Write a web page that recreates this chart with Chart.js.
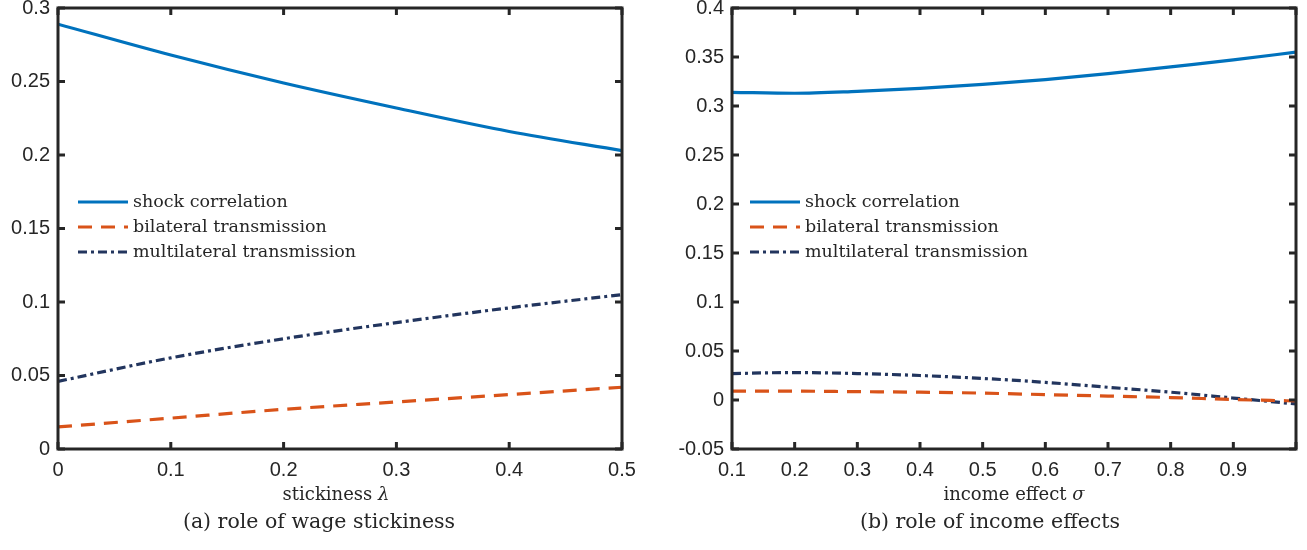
<!DOCTYPE html>
<html>
<head>
<meta charset="utf-8">
<script src="https://cdn.jsdelivr.net/npm/chart.js@4.4.0/dist/chart.umd.min.js"></script>
<style>
  body { margin: 0; background: #fff; width: 1307px; height: 550px; position: relative; overflow: hidden; }
  .pane { position: absolute; top: 0; height: 550px; }
  .txt { position: absolute; font-family: "DejaVu Serif", serif; color: #262626; text-align: center; white-space: nowrap; line-height: 1; }
</style>
</head>
<body>
<div class="pane" style="left:0;width:640px"><canvas id="chartA" width="640" height="550"></canvas></div>
<div class="pane" style="left:660px;width:647px"><canvas id="chartB" width="647" height="550"></canvas></div>
<div class="txt" style="left:236px;width:200px;top:485px;font-size:18px">stickiness <i>λ</i></div>
<div class="txt" style="left:119px;width:400px;top:511px;font-size:20.5px">(a) role of wage stickiness</div>
<div class="txt" style="left:914px;width:200px;top:485px;font-size:18px">income effect <i>σ</i></div>
<div class="txt" style="left:790px;width:400px;top:511px;font-size:20.5px">(b) role of income effects</div>
<script>
// panel (a): wage stickiness
var stickiness = [0, 0.1, 0.2, 0.3, 0.4, 0.5];
var shockA = [0.289, 0.268, 0.249, 0.232, 0.216, 0.203];
var bilateralA = [0.015, 0.021, 0.027, 0.032, 0.037, 0.042];
var multilateralA = [0.046, 0.062, 0.075, 0.086, 0.096, 0.105];

// panel (b): income effects
var incomeEffect = [0.1, 0.2, 0.3, 0.4, 0.5, 0.6, 0.7, 0.8, 0.9, 1.0];
var shockB = [0.314, 0.313, 0.315, 0.318, 0.322, 0.327, 0.333, 0.340, 0.347, 0.355];
var bilateralB = [0.009, 0.009, 0.0085, 0.008, 0.007, 0.0055, 0.004, 0.0025, 0.0005, -0.001];
var multilateralB = [0.027, 0.028, 0.027, 0.025, 0.022, 0.018, 0.013, 0.008, 0.002, -0.004];

var seriesNames = ['shock correlation', 'bilateral transmission', 'multilateral transmission'];

var axisColor = '#262626';
var tickFont = { family: '"Liberation Sans", Arial, sans-serif', size: 20 };

function pts(xs, ys) {
    return xs.map(function (x, i) { return { x: x, y: ys[i] }; });
}

function makeDatasets(xs, shock, bil, multi) {
    return [
        { label: seriesNames[0], data: pts(xs, shock), borderColor: '#0072BD', borderWidth: 3.2 },
        { label: seriesNames[1], data: pts(xs, bil), borderColor: '#D95319', borderWidth: 3.2, borderDash: [14, 9] },
        { label: seriesNames[2], data: pts(xs, multi), borderColor: '#22355E', borderWidth: 3.2, borderDash: [9, 4, 3, 4] }
    ];
}

// box around plot area with inward ticks, matlab style
var matlabFrame = {
    id: 'matlabFrame',
    afterDraw: function (chart) {
        var ctx = chart.ctx, a = chart.chartArea;
        var xs = chart.scales.x, ys = chart.scales.y;
        var len = 7;
        ctx.save();
        ctx.strokeStyle = axisColor;
        ctx.lineWidth = 3;
        ctx.beginPath();
        xs.ticks.forEach(function (t) {
            var px = xs.getPixelForValue(t.value);
            ctx.moveTo(px, a.bottom); ctx.lineTo(px, a.bottom - len);
            ctx.moveTo(px, a.top); ctx.lineTo(px, a.top + len);
        });
        ys.ticks.forEach(function (t) {
            var py = ys.getPixelForValue(t.value);
            ctx.moveTo(a.left, py); ctx.lineTo(a.left + len, py);
            ctx.moveTo(a.right, py); ctx.lineTo(a.right - len, py);
        });
        ctx.stroke();
        ctx.strokeRect(a.left, a.top, a.right - a.left, a.bottom - a.top);
        ctx.restore();
    }
};

// legend drawn inside the axes
var insideLegend = {
    id: 'insideLegend',
    afterDatasetsDraw: function (chart, args, opts) {
        var ctx = chart.ctx;
        var x0 = chart.chartArea.left + opts.left;
        ctx.save();
        chart.data.datasets.forEach(function (ds, i) {
            var y = opts.top + i * 25;
            ctx.strokeStyle = ds.borderColor;
            ctx.lineWidth = ds.borderWidth;
            ctx.setLineDash(ds.borderDash || []);
            ctx.beginPath();
            ctx.moveTo(x0, y);
            ctx.lineTo(x0 + 50, y);
            ctx.stroke();
            ctx.setLineDash([]);
            ctx.fillStyle = axisColor;
            ctx.font = '17.5px "DejaVu Serif", serif';
            ctx.textBaseline = 'middle';
            ctx.fillText(ds.label, x0 + 55, y);
        });
        ctx.restore();
    }
};

function makeChart(id, datasets, xr, yr, yAxisWidth, rightPad, legendLeft) {
    return new Chart(document.getElementById(id), {
        type: 'line',
        data: { datasets: datasets },
        plugins: [matlabFrame, insideLegend],
        options: {
            responsive: false,
            animation: false,
            elements: { point: { radius: 0 }, line: { tension: 0.4, cubicInterpolationMode: 'monotone' } },
            layout: { padding: { top: 8, right: rightPad, bottom: 0, left: 0 } },
            plugins: {
                legend: { display: false },
                tooltip: { enabled: false },
                insideLegend: { left: legendLeft, top: 202 }
            },
            scales: {
                x: {
                    type: 'linear', min: xr[0], max: xr[1],
                    grid: { display: false, drawTicks: false }, border: { display: false },
                    ticks: {
                        stepSize: 0.1, color: axisColor, font: tickFont, padding: 9, maxRotation: 0,
                        callback: function (v) { return Math.abs(v - 1) < 1e-9 && xr[1] === 1 ? '' : String(+v.toFixed(2)); }
                    },
                    afterFit: function (s) { s.height = 101; s.paddingLeft = 0; s.paddingRight = 0; }
                },
                y: {
                    min: yr[0], max: yr[1],
                    grid: { display: false, drawTicks: false }, border: { display: false },
                    ticks: {
                        stepSize: 0.05, color: axisColor, font: tickFont, padding: 8,
                        callback: function (v) { return String(+v.toFixed(2)); }
                    },
                    afterFit: function (s) { s.width = yAxisWidth; s.paddingTop = 0; s.paddingBottom = 0; }
                }
            }
        }
    });
}

makeChart('chartA', makeDatasets(stickiness, shockA, bilateralA, multilateralA), [0, 0.5], [0, 0.3], 58, 18, 20);
makeChart('chartB', makeDatasets(incomeEffect, shockB, bilateralB, multilateralB), [0.1, 1], [-0.05, 0.4], 72, 11, 18);
</script>
</body>
</html>
